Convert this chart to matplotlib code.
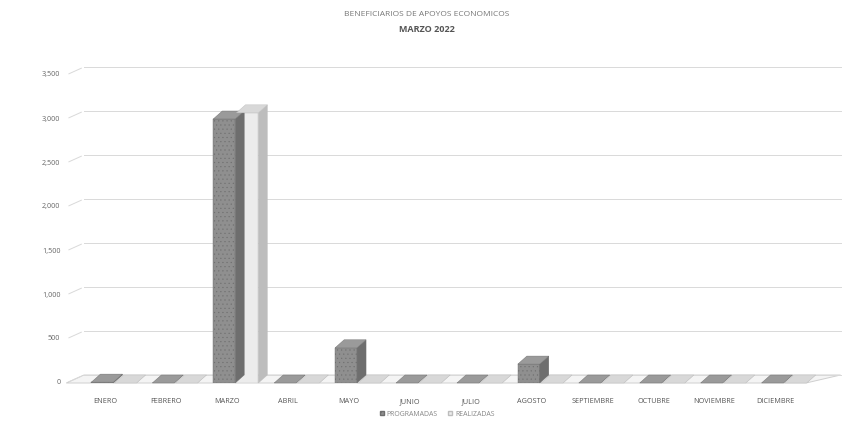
import matplotlib
matplotlib.use("Agg")
import matplotlib.pyplot as plt
from matplotlib.patches import Polygon, Patch
from matplotlib.transforms import ScaledTranslation
import numpy as np

plt.rcParams['font.family'] = ['Open Sans', 'DejaVu Sans']

months = ["ENERO", "FEBRERO", "MARZO", "ABRIL", "MAYO", "JUNIO", "JULIO",
          "AGOSTO", "SEPTIEMBRE", "OCTUBRE", "NOVIEMBRE", "DICIEMBRE"]
programadas = [10, 0, 3000, 0, 400, 0, 0, 215, 0, 0, 0, 0]
realizadas = [0, 0, 3070, 0, 0, 0, 0, 0, 0, 0, 0, 0]
yticks = [0, 500, 1000, 1500, 2000, 2500, 3000, 3500]
ytick_labels = ["0", "500", "1,000", "1,500", "2,000", "2,500", "3,000", "3,500"]

W, H = 852, 429
fig = plt.figure(figsize=(W / 100, H / 100), dpi=100)
fig.patch.set_facecolor("white")
ax = fig.add_axes([75 / W, (H - 383) / H, 731 / W, (383 - 75) / H])
ax.set_xlim(-0.5, 11.5)
ax.set_ylim(0, 3500)
ax.axis("off")

# depth offset for pseudo-3D
ddx, ddy = 9 / 100, 8 / 100
back = ax.transData + ScaledTranslation(ddx, ddy, fig.dpi_scale_trans)
backA = ax.get_yaxis_transform() + ScaledTranslation(ddx, ddy, fig.dpi_scale_trans)
inv = fig.transFigure.inverted()

grid_col = "#d9d9d9"
for v, lab in zip(yticks, ytick_labels):
    ax.plot([0, 1.035], [v, v], color=grid_col, lw=0.7, transform=backA, zorder=1, clip_on=False)
    ax.annotate("", xy=(0, v), xycoords=backA, xytext=(-0.012, v),
                textcoords=ax.get_yaxis_transform(),
                arrowprops=dict(arrowstyle="-", color=grid_col, lw=0.7))
    ax.text(-0.02, v, lab, transform=ax.get_yaxis_transform(), ha="right",
            va="center", fontsize=5.2, color="#666666")

# floor parallelogram
p0 = ax.get_yaxis_transform().transform([(-0.012, 0), (1.0, 0)])
p1 = backA.transform([(0.0, 0), (1.035, 0)])
pts = inv.transform(np.vstack([p0[0], p0[1], p1[1], p1[0]]))
fig.add_artist(Polygon(pts, closed=True, facecolor="#f4f4f4", edgecolor="#cfcfcf",
                       lw=0.7, transform=fig.transFigure, zorder=0))

plt.rcParams['hatch.color'] = "#777777"
plt.rcParams['hatch.linewidth'] = 0.3


def bar3d(x, h, w, face, side, top, hatch):
    hh = max(h, 0)
    ax.bar(x, hh, width=w, color=face, edgecolor=side, lw=0.3, hatch=hatch, zorder=3)
    f = ax.transData.transform([(x + w / 2, 0), (x + w / 2, hh), (x - w / 2, hh)])
    b = back.transform([(x + w / 2, 0), (x + w / 2, hh), (x - w / 2, hh)])
    side_pts = inv.transform(np.vstack([f[0], f[1], b[1], b[0]]))
    top_pts = inv.transform(np.vstack([f[2], f[1], b[1], b[2]]))
    fig.add_artist(Polygon(side_pts, closed=True, facecolor=side, edgecolor=side,
                           lw=0.3, transform=fig.transFigure, zorder=4))
    fig.add_artist(Polygon(top_pts, closed=True, facecolor=top, edgecolor=side,
                           lw=0.3, transform=fig.transFigure, zorder=4))


x = np.arange(len(months))
for i in x:
    bar3d(i - 0.05, programadas[i], 0.36, "#8f8f8f", "#6e6e6e", "#9a9a9a", "....")
    bar3d(i + 0.33, realizadas[i], 0.36, "#ececec", "#bdbdbd", "#d8d8d8", "")

for i, m in enumerate(months):
    ax.text(i, -0.05, m, transform=ax.get_xaxis_transform(), ha="center", va="top",
            fontsize=5.2, color="#555555")

fig.text(427 / W, 1 - 15 / H, "BENEFICIARIOS DE APOYOS ECONOMICOS", ha="center",
         va="center", fontsize=6, color="#777777")
fig.text(427 / W, 1 - 29 / H, "MARZO 2022", ha="center", va="center", fontsize=6.5,
         fontweight="bold", color="#555555")

handles = [Patch(facecolor="#8f8f8f", edgecolor="#6e6e6e", hatch="...."),
           Patch(facecolor="#ececec", edgecolor="#bdbdbd")]
leg = fig.legend(handles, ["PROGRAMADAS", "REALIZADAS"], loc="center",
                 bbox_to_anchor=(437 / W, 1 - 414 / H), ncol=2, frameon=False,
                 fontsize=5, handlelength=0.6, handleheight=0.6, columnspacing=1.5,
                 handletextpad=0.4, borderaxespad=0, borderpad=0)
for t in leg.get_texts():
    t.set_color("#888888")

fig.savefig("out.png", dpi=100, facecolor="white")
